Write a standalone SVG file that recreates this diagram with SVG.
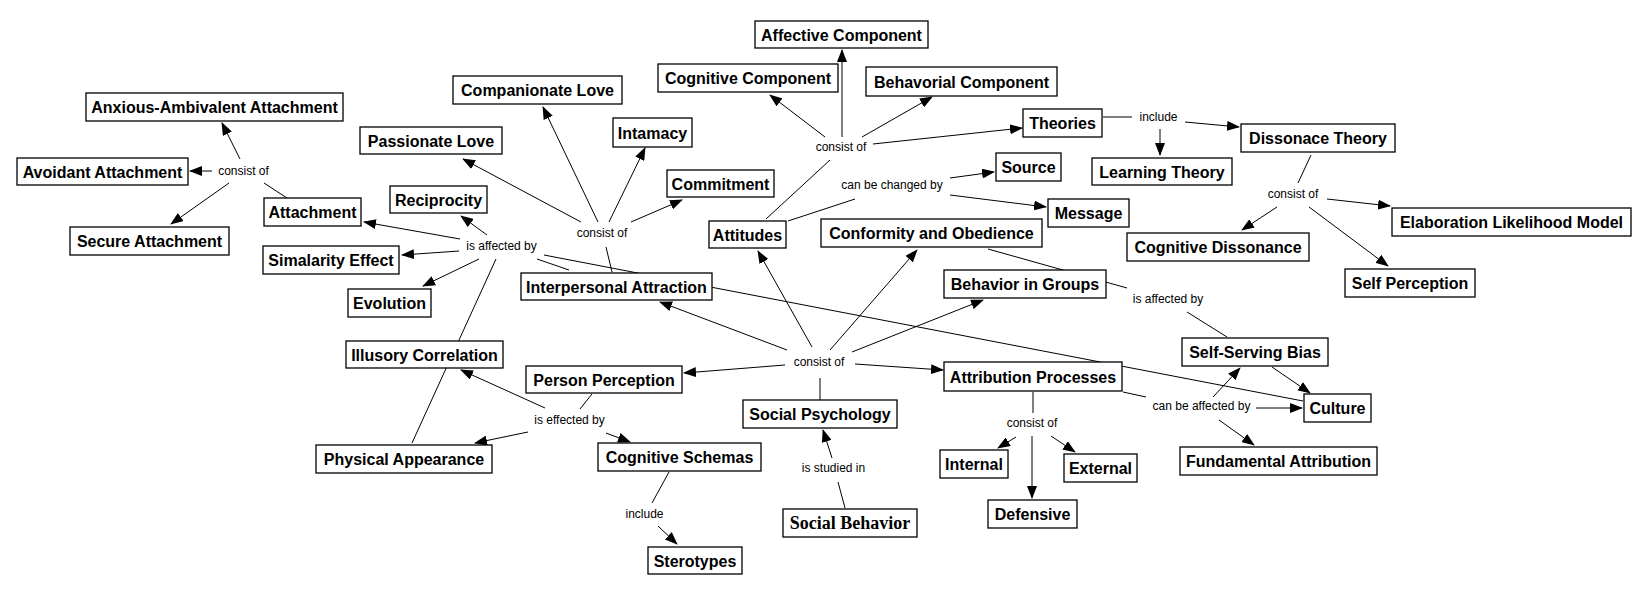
<svg xmlns="http://www.w3.org/2000/svg" width="1645" height="594" viewBox="0 0 1645 594">
<style>
.n rect{fill:#fff;stroke:#000;stroke-width:1.3}
.n text{font-family:"Liberation Sans",Arial,sans-serif;font-size:16px;font-weight:bold;text-anchor:middle;fill:#000}
.n text.serif{font-family:"Liberation Serif","Times New Roman",serif;font-size:18px}
.lbl{font-family:"Liberation Sans",Arial,sans-serif;font-size:12px;text-anchor:middle;fill:#000}
#connectors line{stroke:#000;stroke-width:1}
#connectors line.a{marker-end:url(#arr)}
</style>
<defs>
<marker id="arr" markerUnits="userSpaceOnUse" markerWidth="13" markerHeight="10" refX="12" refY="5" orient="auto">
<path d="M0,0 L13,5 L0,10 z" fill="#000"/>
</marker>
</defs>
<rect width="1645" height="594" fill="#fff"/>
<g id="connectors">
<line x1="287" y1="198" x2="264" y2="183"/>
<line class="a" x1="240" y1="159" x2="222" y2="123"/>
<line class="a" x1="212" y1="171" x2="190" y2="171"/>
<line class="a" x1="229" y1="183" x2="171" y2="224"/>
<line class="a" x1="487" y1="235" x2="461" y2="216"/>
<line class="a" x1="460" y1="239" x2="364" y2="222"/>
<line class="a" x1="459" y1="251" x2="402" y2="255"/>
<line class="a" x1="479" y1="259" x2="423" y2="286"/>
<line x1="412" y1="443" x2="496" y2="259"/>
<line x1="1303" y1="401" x2="544" y2="255"/>
<line x1="569" y1="270" x2="537" y2="259"/>
<line x1="612" y1="272" x2="606" y2="247"/>
<line class="a" x1="581" y1="222" x2="463" y2="159"/>
<line class="a" x1="598" y1="222" x2="543" y2="107"/>
<line class="a" x1="609" y1="222" x2="645" y2="148"/>
<line class="a" x1="631" y1="222" x2="682" y2="200"/>
<line x1="766" y1="219" x2="830" y2="160"/>
<line class="a" x1="825" y1="137" x2="770" y2="95"/>
<line class="a" x1="842" y1="137" x2="842" y2="50"/>
<line class="a" x1="862" y1="137" x2="932" y2="97"/>
<line class="a" x1="873" y1="144" x2="1022" y2="128"/>
<line x1="788" y1="221" x2="855" y2="199"/>
<line class="a" x1="950" y1="178" x2="994" y2="172"/>
<line class="a" x1="950" y1="195" x2="1046" y2="207"/>
<line x1="1103" y1="117" x2="1132" y2="117"/>
<line class="a" x1="1185" y1="122" x2="1239" y2="127"/>
<line class="a" x1="1160" y1="129" x2="1160" y2="155"/>
<line x1="1311" y1="155" x2="1298" y2="183"/>
<line class="a" x1="1327" y1="199" x2="1390" y2="206"/>
<line class="a" x1="1277" y1="207" x2="1242" y2="230"/>
<line class="a" x1="1309" y1="207" x2="1388" y2="266"/>
<line x1="988" y1="249" x2="1127" y2="288"/>
<line x1="1227" y1="337" x2="1187" y2="312"/>
<line x1="820" y1="400" x2="820" y2="378"/>
<line class="a" x1="812" y1="347" x2="758" y2="251"/>
<line class="a" x1="787" y1="350" x2="660" y2="302"/>
<line class="a" x1="785" y1="365" x2="684" y2="373"/>
<line class="a" x1="830" y1="350" x2="917" y2="250"/>
<line class="a" x1="852" y1="352" x2="983" y2="300"/>
<line class="a" x1="855" y1="364" x2="943" y2="370"/>
<line x1="592" y1="394" x2="580" y2="409"/>
<line class="a" x1="545" y1="408" x2="461" y2="370"/>
<line class="a" x1="528" y1="432" x2="475" y2="443"/>
<line class="a" x1="606" y1="433" x2="630" y2="442"/>
<line x1="669" y1="472" x2="652" y2="503"/>
<line class="a" x1="658" y1="526" x2="677" y2="544"/>
<line x1="845" y1="508" x2="838" y2="482"/>
<line class="a" x1="832" y1="458" x2="823" y2="430"/>
<line x1="1033" y1="392" x2="1033" y2="413"/>
<line class="a" x1="1016" y1="437" x2="998" y2="448"/>
<line class="a" x1="1032" y1="436" x2="1032" y2="498"/>
<line class="a" x1="1051" y1="436" x2="1075" y2="452"/>
<line x1="1123" y1="392" x2="1146" y2="397"/>
<line class="a" x1="1213" y1="397" x2="1240" y2="368"/>
<line class="a" x1="1256" y1="408" x2="1302" y2="408"/>
<line class="a" x1="1219" y1="420" x2="1254" y2="445"/>
<line class="a" x1="1272" y1="367" x2="1310" y2="393"/>
<text class="lbl" x="243.5" y="175">consist of</text>
<text class="lbl" x="501.5" y="250">is affected by</text>
<text class="lbl" x="602" y="237">consist of</text>
<text class="lbl" x="841" y="151">consist of</text>
<text class="lbl" x="892" y="189">can be changed by</text>
<text class="lbl" x="1158.5" y="121">include</text>
<text class="lbl" x="1293" y="198">consist of</text>
<text class="lbl" x="1168" y="303">is affected by</text>
<text class="lbl" x="819" y="366">consist of</text>
<text class="lbl" x="569.5" y="424">is effected by</text>
<text class="lbl" x="644.5" y="518">include</text>
<text class="lbl" x="833.5" y="472">is studied in</text>
<text class="lbl" x="1032" y="427">consist of</text>
<text class="lbl" x="1201.5" y="410">can be affected by</text>
</g>
<g id="anxious" class="n"><rect x="86" y="93" width="257" height="28"/><text x="214.5" y="113">Anxious-Ambivalent Attachment</text></g>
<g id="avoidant" class="n"><rect x="17" y="158" width="171" height="27"/><text x="102.5" y="177.5">Avoidant Attachment</text></g>
<g id="secure" class="n"><rect x="70" y="227" width="159" height="28"/><text x="149.5" y="247">Secure Attachment</text></g>
<g id="attachment" class="n"><rect x="264" y="198" width="97" height="28"/><text x="312.5" y="218">Attachment</text></g>
<g id="passionate" class="n"><rect x="360" y="127" width="142" height="27"/><text x="431" y="146.5">Passionate Love</text></g>
<g id="companionate" class="n"><rect x="453" y="76" width="169" height="28"/><text x="537.5" y="96">Companionate Love</text></g>
<g id="intamacy" class="n"><rect x="613" y="118" width="79" height="29"/><text x="652.5" y="138.5">Intamacy</text></g>
<g id="commitment" class="n"><rect x="667" y="170" width="107" height="27"/><text x="720.5" y="189.5">Commitment</text></g>
<g id="reciprocity" class="n"><rect x="390" y="186" width="97" height="27"/><text x="438.5" y="205.5">Reciprocity</text></g>
<g id="simalarity" class="n"><rect x="263" y="246" width="136" height="28"/><text x="331" y="266">Simalarity Effect</text></g>
<g id="evolution" class="n"><rect x="348" y="289" width="83" height="28"/><text x="389.5" y="309">Evolution</text></g>
<g id="illusory" class="n"><rect x="346" y="341" width="157" height="27"/><text x="424.5" y="360.5">Illusory Correlation</text></g>
<g id="interpersonal" class="n"><rect x="521" y="273" width="191" height="27"/><text x="616.5" y="292.5">Interpersonal Attraction</text></g>
<g id="person" class="n"><rect x="526" y="366" width="156" height="27"/><text x="604" y="385.5">Person Perception</text></g>
<g id="physical" class="n"><rect x="316" y="445" width="176" height="28"/><text x="404" y="465">Physical Appearance</text></g>
<g id="schemas" class="n"><rect x="598" y="443" width="163" height="28"/><text x="679.5" y="463">Cognitive Schemas</text></g>
<g id="sterotypes" class="n"><rect x="648" y="547" width="94" height="27"/><text x="695" y="566.5">Sterotypes</text></g>
<g id="socialpsych" class="n"><rect x="743" y="400" width="154" height="28"/><text x="820" y="420">Social Psychology</text></g>
<g id="socialbehavior" class="n"><rect x="783" y="509" width="134" height="28"/><text class="serif" x="850" y="529">Social Behavior</text></g>
<g id="attitudes" class="n"><rect x="709" y="221" width="77" height="27"/><text x="747.5" y="240.5">Attitudes</text></g>
<g id="affective" class="n"><rect x="755" y="21" width="173" height="27"/><text x="841.5" y="40.5">Affective Component</text></g>
<g id="cognitive" class="n"><rect x="658" y="64" width="180" height="28"/><text x="748" y="84">Cognitive Component</text></g>
<g id="behavioral" class="n"><rect x="866" y="67" width="191" height="29"/><text x="961.5" y="87.5">Behavorial Component</text></g>
<g id="theories" class="n"><rect x="1023" y="109" width="79" height="28"/><text x="1062.5" y="129">Theories</text></g>
<g id="learning" class="n"><rect x="1092" y="158" width="140" height="27"/><text x="1162" y="177.5">Learning Theory</text></g>
<g id="dissonace" class="n"><rect x="1241" y="124" width="154" height="28"/><text x="1318" y="144">Dissonace Theory</text></g>
<g id="source" class="n"><rect x="996" y="153" width="65" height="28"/><text x="1028.5" y="173">Source</text></g>
<g id="message" class="n"><rect x="1048" y="199" width="81" height="28"/><text x="1088.5" y="219">Message</text></g>
<g id="conformity" class="n"><rect x="821" y="219" width="221" height="28"/><text x="931.5" y="239">Conformity and Obedience</text></g>
<g id="groups" class="n"><rect x="944" y="270" width="162" height="28"/><text x="1025" y="290">Behavior in Groups</text></g>
<g id="cogdiss" class="n"><rect x="1127" y="233" width="182" height="28"/><text x="1218" y="253">Cognitive Dissonance</text></g>
<g id="elaboration" class="n"><rect x="1392" y="208" width="239" height="28"/><text x="1511.5" y="228">Elaboration Likelihood Model</text></g>
<g id="selfperception" class="n"><rect x="1345" y="269" width="130" height="28"/><text x="1410" y="289">Self Perception</text></g>
<g id="selfserving" class="n"><rect x="1182" y="338" width="146" height="28"/><text x="1255" y="358">Self-Serving Bias</text></g>
<g id="attribution" class="n"><rect x="944" y="362" width="178" height="29"/><text x="1033" y="382.5">Attribution Processes</text></g>
<g id="culture" class="n"><rect x="1304" y="394" width="67" height="28"/><text x="1337.5" y="414">Culture</text></g>
<g id="internal" class="n"><rect x="940" y="450" width="68" height="28"/><text x="974" y="470">Internal</text></g>
<g id="defensive" class="n"><rect x="988" y="500" width="89" height="28"/><text x="1032.5" y="520">Defensive</text></g>
<g id="external" class="n"><rect x="1064" y="454" width="73" height="28"/><text x="1100.5" y="474">External</text></g>
<g id="fundamental" class="n"><rect x="1180" y="447" width="197" height="28"/><text x="1278.5" y="467">Fundamental Attribution</text></g>
</svg>
